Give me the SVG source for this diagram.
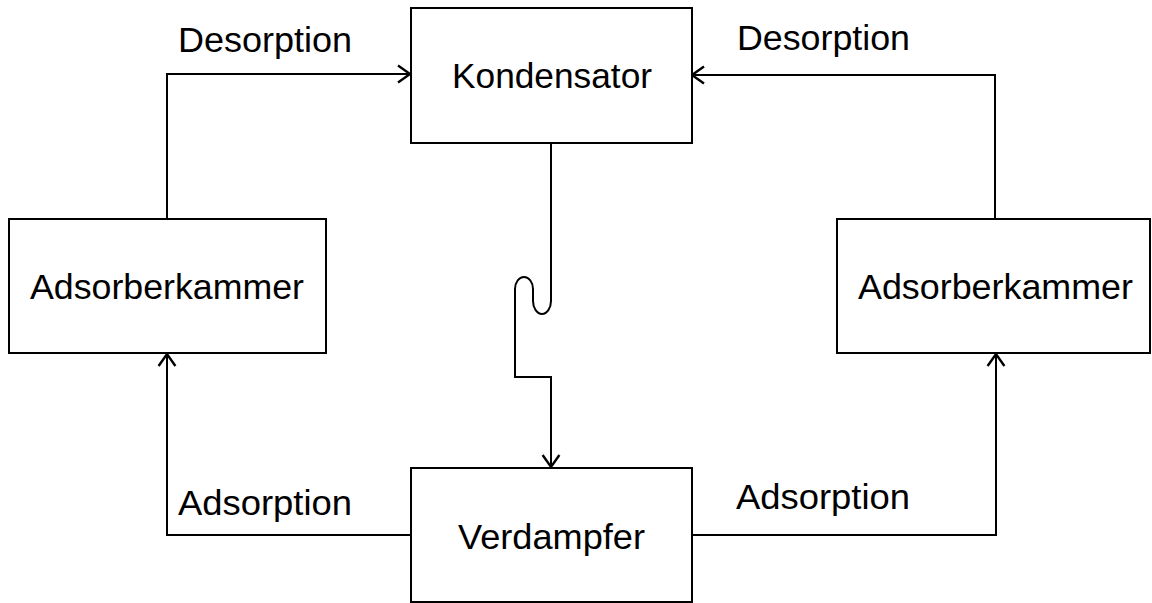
<svg xmlns="http://www.w3.org/2000/svg" width="1152" height="603" viewBox="0 0 1152 603">
<style>
.box{fill:#fff;stroke:#000;stroke-width:2}
.lbl{font-family:"Liberation Sans",Arial,sans-serif;font-size:35px;fill:#000}
.conn{fill:none;stroke:#000;stroke-width:2}
</style>
<defs>
<marker id="arr" markerUnits="userSpaceOnUse" markerWidth="24" markerHeight="24" viewBox="-12 -10 14 20" refX="0" refY="0" orient="auto">
<path d="M-10,-7 L0,0 L-10,7" fill="none" stroke="#000" stroke-width="2"/>
</marker>
</defs>
<rect width="1152" height="603" fill="#fff"/>
<g id="connectors">
<path class="conn" d="M167,219 V74 H410" marker-end="url(#arr)"/>
<path class="conn" d="M995,219 V75 H692" marker-end="url(#arr)"/>
<path class="conn" d="M551,143 V301 A9,13 0 0 1 533,301 V289 A9,12 0 0 0 515,289 V377 H551 V467" marker-end="url(#arr)"/>
<path class="conn" d="M411,535 H167 V354" marker-end="url(#arr)"/>
<path class="conn" d="M692,535 H996 V354" marker-end="url(#arr)"/>
<text class="lbl" x="178" y="52" textLength="174" lengthAdjust="spacingAndGlyphs">Desorption</text>
<text class="lbl" x="737" y="50" textLength="173" lengthAdjust="spacingAndGlyphs">Desorption</text>
<text class="lbl" x="178" y="515" textLength="174" lengthAdjust="spacingAndGlyphs">Adsorption</text>
<text class="lbl" x="736" y="509" textLength="174" lengthAdjust="spacingAndGlyphs">Adsorption</text>
</g>
<g id="kondensator">
<rect class="box" x="411" y="8" width="281" height="135"/>
<text class="lbl" x="452" y="88" textLength="200" lengthAdjust="spacingAndGlyphs">Kondensator</text>
</g>
<g id="adsorber-left">
<rect class="box" x="9" y="219" width="317" height="134"/>
<text class="lbl" x="30" y="299" textLength="274" lengthAdjust="spacingAndGlyphs">Adsorberkammer</text>
</g>
<g id="adsorber-right">
<rect class="box" x="837" y="219" width="313" height="134"/>
<text class="lbl" x="858" y="299" textLength="275" lengthAdjust="spacingAndGlyphs">Adsorberkammer</text>
</g>
<g id="verdampfer">
<rect class="box" x="411" y="468" width="281" height="134"/>
<text class="lbl" x="458" y="549" textLength="187" lengthAdjust="spacingAndGlyphs">Verdampfer</text>
</g>
</svg>
